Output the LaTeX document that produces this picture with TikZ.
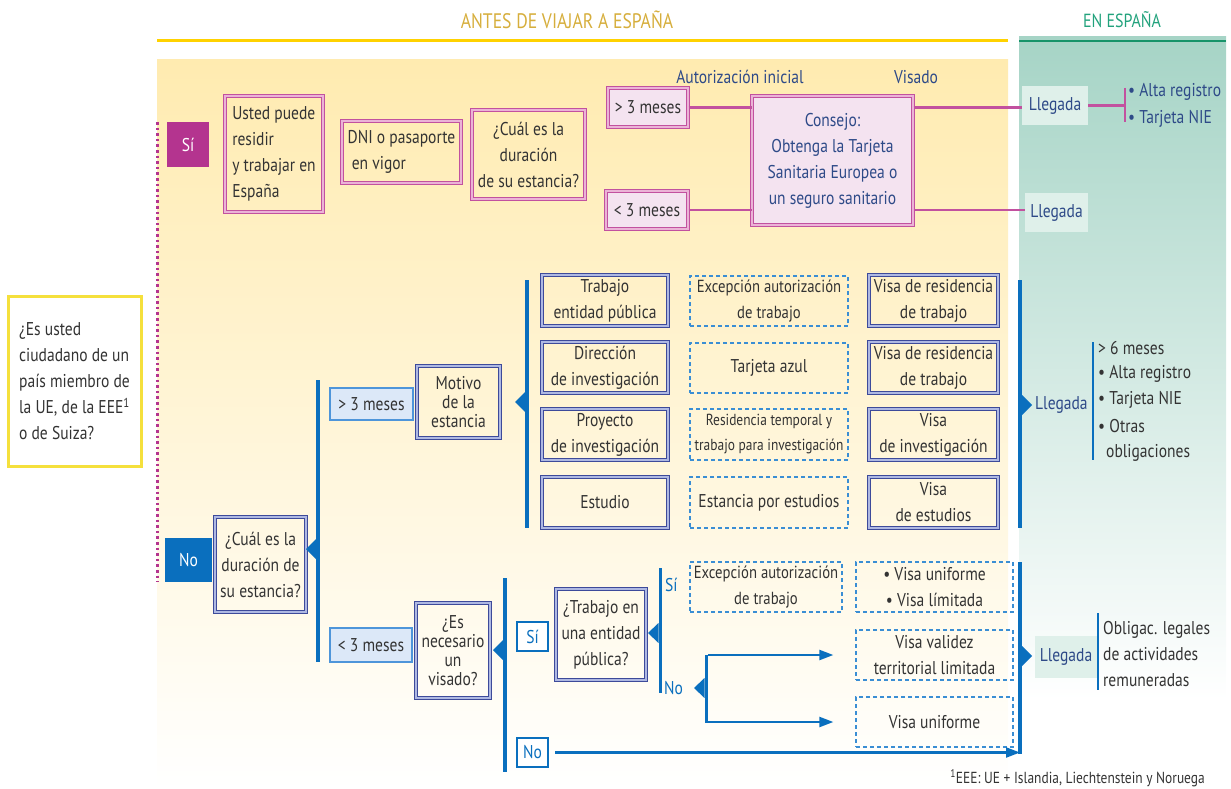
\documentclass[tikz,border=0pt]{standalone}
\usepackage{fontspec}
\setmainfont{PT Sans}[FakeStretch=0.84]
\usetikzlibrary{arrows.meta,calc,positioning}

\definecolor{yellowbg}{HTML}{FFEBB0}
\definecolor{tealbg}{HTML}{A6D4C6}
\definecolor{headgold}{HTML}{D6AE3C}
\definecolor{headline}{HTML}{FFD200}
\definecolor{headgreen}{HTML}{22A27C}
\definecolor{greenline}{HTML}{17946A}
\definecolor{magfill}{HTML}{B4348F}
\definecolor{magline}{HTML}{C2519F}
\definecolor{maginner}{HTML}{EBB3D6}
\definecolor{pinkfill}{HTML}{F4E3F0}
\definecolor{barblue}{HTML}{0A6FBE}
\definecolor{navy}{HTML}{3D4A9A}
\definecolor{navyinner}{HTML}{AEB8E2}
\definecolor{lightblue}{HTML}{DCE8F8}
\definecolor{skyline}{HTML}{4E95DA}
\definecolor{dashblue}{HTML}{3A8ED4}
\definecolor{txtgray}{HTML}{333333}
\definecolor{txtblue}{HTML}{2E4A88}
\definecolor{llegfill}{HTML}{DFF0EA}
\definecolor{qyellow}{HTML}{F5E03C}

\begin{document}
\begin{tikzpicture}
[
                  x =  1pt,
                  y = -1pt,
                 >= {Triangle[length=14pt,width=10pt]},
  every node/.style = { font=\fontsize{18.5}{26}\selectfont, text=txtgray, inner sep=0pt },
   yellowbox/.style = { draw=qyellow, line width=3pt, fill=white },
       sibox/.style = { fill=magfill, text=white },
       nobox/.style = { fill=barblue, text=white },
     pinkbox/.style = { draw=magline, double=maginner, line width=1pt, double distance=1.2pt },
  pinkfilled/.style = { pinkbox, fill=pinkfill },
     navybox/.style = { draw=navy, double=navyinner, line width=1pt, double distance=1.2pt },
   mesesbox/.style = { draw=skyline, line width=1.8pt, fill=lightblue },
     dashbox/.style = { draw=dashblue, line width=1.3pt, dash pattern=on 4pt off 3pt },
      answer/.style = { draw=barblue, line width=2.8pt, fill=white, text=barblue },
     llegada/.style = { fill=llegfill, text=txtblue },
        item/.style = { anchor=west },
         bar/.style = { draw=barblue, line width=4pt },
     thinbar/.style = { draw=barblue, line width=1.6pt },
     magconn/.style = { draw=magline, line width=2.2pt },
       arrow/.style = { draw=barblue, line width=2.2pt, -> }
]

    \useasboundingbox (0,0) rectangle (1231,789);

    \shade[top color=yellowbg, bottom color=white] (157,60) rectangle (1008,789);
    \shade[top color=tealbg, bottom color=white] (1019,37) rectangle (1226,700);

    \node (Antes)     at (567,20)  [text=headgold, font=\fontsize{21}{24}\selectfont] {ANTES DE VIAJAR A ESPAÑA};
    \node (EnEspana)  at (1122,20) [text=headgreen, font=\fontsize{19}{22}\selectfont] {EN ESPAÑA};
    \draw[headline, line width=3pt] (157,41) -- (1008,41);
    \draw[greenline, line width=2.5pt] (1019,41) -- (1226,41);

    \node (Ciudadano) at (74.5,381) [yellowbox, minimum width=133pt, minimum height=170pt, align=left]
        {¿Es usted\\ciudadano de un\\país miembro de\\la UE, de la EEE\textsuperscript{1}\\o de Suiza?};
    \draw[magfill, line width=3pt, dash pattern=on 2.6pt off 3pt] (157,122) -- (157,582);

    \node (Si)        at (188,144.5)   [sibox, minimum width=42pt, minimum height=45pt] {Sí};
    \node (No)        at (188.5,560)   [nobox, minimum width=47pt, minimum height=44pt] {No};

    \node (Residir)   at (274,154)     [pinkbox, minimum width=98pt, minimum height=116pt, align=left]
        {Usted puede\\residir\\y trabajar en\\España};
    \node (Dni)       at (401.5,152)   [pinkbox, minimum width=119pt, minimum height=62pt, align=left]
        {DNI o pasaporte\\\ en vigor};
    \node (DuraSi)    at (528.5,154.5) [pinkbox, minimum width=113pt, minimum height=89pt, align=center]
        {¿Cuál es la\\duración\\de su estancia?};

    \node (AutLabel)  at (740,77)  [text=txtblue] {Autorización inicial};
    \node (VisLabel)  at (916,77)  [text=txtblue] {Visado};

    \node (MasTres)   at (648,107.5)   [pinkfilled, minimum width=80pt, minimum height=39pt] {> 3 meses};
    \node (MenosTres) at (647,210)     [pinkfilled, minimum width=82pt, minimum height=38pt] {< 3 meses};
    \node (Consejo)   at (832.5,160.5) [pinkfilled, minimum width=161pt, minimum height=129pt, align=center, text=txtblue]
        {Consejo:\\Obtenga la Tarjeta\\Sanitaria Europea o\\un seguro sanitario};
    \node (LlegadaA)  at (1055,105.5)  [llegada, minimum width=66pt, minimum height=39pt] {Llegada};
    \node (LlegadaB)  at (1056.5,212.5)[llegada, minimum width=63pt, minimum height=39pt] {Llegada};

    \draw[magconn] (MasTres.east) -- (MasTres.east -| Consejo.west);
    \draw[magconn] (MasTres.east -| Consejo.east) -- (MasTres.east -| LlegadaA.west);
    \draw[magconn] (MenosTres.east) -- (MenosTres.east -| Consejo.west);
    \draw[magconn] (MenosTres.east -| Consejo.east) -- (MenosTres.east -| LlegadaB.west);
    \coordinate (BrkTop) at (1125,88);
    \coordinate (BrkBot) at (1125,122);
    \draw[magconn] (LlegadaA.east) -- (LlegadaA.east -| BrkTop);
    \draw[magconn] (BrkTop) -- (BrkBot);
    \node (AltaA)     at (1128,92)  [item, text=txtblue] {• Alta registro};
    \node (NieA)      at (1128,119) [item, text=txtblue] {• Tarjeta NIE};

    \node (DuraNo)    at (260.5,564.5) [navybox, minimum width=91pt, minimum height=95pt, align=center]
        {¿Cuál es la\\duración de\\su estancia?};
    \coordinate (BarATop) at (318,380);
    \coordinate (BarABot) at (318,662);
    \draw[bar] (BarATop) -- (BarABot);
    \fill[barblue] (316,539) -- (306,549) -- (316,559) -- cycle;

    \node (MasTresB)  at (371.5,404)   [mesesbox, minimum width=83pt, minimum height=32pt] {> 3 meses};
    \node (Motivo)    at (458.5,402)   [navybox, minimum width=83pt, minimum height=72pt, align=center,
                                        font=\fontsize{18.5}{19}\selectfont] {Motivo\\de la\\estancia};
    \coordinate (BarBTop) at (527,280);
    \coordinate (BarBBot) at (527,528);
    \draw[bar] (BarBTop) -- (BarBBot);
    \fill[barblue] (525,392) -- (515,402) -- (525,412) -- cycle;

    \node (Trabajo)   at (605,300.5) [navybox, minimum width=126pt, minimum height=51pt, align=center] {Trabajo\\entidad pública};
    \node (Direccion) at (605,367.5) [navybox, minimum width=126pt, minimum height=51pt, align=center] {Dirección\\de investigación};
    \node (Proyecto)  at (605,434.5) [navybox, minimum width=126pt, minimum height=51pt, align=center] {Proyecto\\de investigación};
    \node (Estudio)   at (605,502.5) [navybox, minimum width=126pt, minimum height=51pt] {Estudio};

    \node (Excepcion) at (769,301)   [dashbox, minimum width=158pt, minimum height=50pt, align=center,
                                      font=\fontsize{17.5}{26}\selectfont] {Excepción autorización\\de trabajo};
    \node (Azul)      at (769,368)   [dashbox, minimum width=158pt, minimum height=50pt] {Tarjeta azul};
    \node (Temporal)  at (769,434.5) [dashbox, minimum width=158pt, minimum height=51pt, align=center,
                                      font=\fontsize{16}{25}\selectfont] {Residencia temporal y\\trabajo para investigación};
    \node (Estancia)  at (769,502.5) [dashbox, minimum width=158pt, minimum height=51pt] {Estancia por estudios};

    \node (VisaTrabA) at (933.5,300.5) [navybox, minimum width=129pt, minimum height=51pt, align=center] {Visa de residencia\\de trabajo};
    \node (VisaTrabB) at (933.5,367.5) [navybox, minimum width=129pt, minimum height=51pt, align=center] {Visa de residencia\\de trabajo};
    \node (VisaInv)   at (933.5,434.5) [navybox, minimum width=129pt, minimum height=51pt, align=center] {Visa\\de investigación};
    \node (VisaEst)   at (933.5,502.5) [navybox, minimum width=129pt, minimum height=51pt, align=center] {Visa\\de estudios};

    \coordinate (BarCTop) at (1020,280);
    \coordinate (BarCBot) at (1020,528);
    \draw[bar] (BarCTop) -- (BarCBot);
    \fill[barblue] (1022,395) -- (1032,405) -- (1022,415) -- cycle;
    \node (LlegadaC)  at (1035,405) [item, text=txtblue] {Llegada};
    \coordinate (BrkCTop) at (1093,342);
    \coordinate (BrkCBot) at (1093,460);
    \draw[thinbar] (BrkCTop) -- (BrkCBot);
    \node (SeisMeses) at (1098,348) [item] {> 6 meses};
    \node (AltaC)     at (1098,374) [item] {• Alta registro};
    \node (NieC)      at (1098,400) [item] {• Tarjeta NIE};
    \node (OtrasC)    at (1098,426) [item] {• Otras};
    \node (OblC)      at (1106,453) [item] {obligaciones};

    \node (MenosTresB) at (371,645)   [mesesbox, minimum width=82pt, minimum height=34pt] {< 3 meses};
    \node (Necesario)  at (453,650.5) [navybox, minimum width=74pt, minimum height=95pt, align=center,
                                       font=\fontsize{18.5}{19}\selectfont] {¿Es\\necesario\\un\\visado?};
    \coordinate (BarDTop) at (505,578);
    \coordinate (BarDBot) at (505,772);
    \draw[bar] (BarDTop) -- (BarDBot);
    \fill[barblue] (503,640) -- (493,650) -- (503,660) -- cycle;

    \node (SiB)       at (532.5,636.5) [answer, minimum width=31pt, minimum height=29pt] {Sí};
    \node (NoB)       at (532.5,752.5) [answer, minimum width=31pt, minimum height=29pt] {No};
    \node (Publica)   at (601,634.5)   [navybox, minimum width=90pt, minimum height=91pt, align=center] {¿Trabajo en\\una entidad\\pública?};

    \coordinate (BarETop) at (660,568);
    \coordinate (BarEBot) at (660,693);
    \draw[bar, line width=3pt] (BarETop) -- (BarEBot);
    \fill[barblue] (658.5,623) -- (648,633) -- (658.5,643) -- cycle;
    \node (SiC)       at (665,585) [item, text=barblue] {Sí};
    \node (NoC)       at (664,688) [item, text=barblue] {No};

    \node (ExcepB)    at (766,587)   [dashbox, minimum width=152pt, minimum height=50pt, align=center,
                                      font=\fontsize{17.5}{26}\selectfont] {Excepción autorización\\de trabajo};
    \node (VisaUL)    at (934.5,587) [dashbox, minimum width=157pt, minimum height=50pt, align=center] {• Visa uniforme\\• Visa límitada};
    \node (VisaVal)   at (934.5,655) [dashbox, minimum width=157pt, minimum height=50pt, align=center] {Visa validez\\territorial limitada};
    \node (VisaUni)   at (934.5,722) [dashbox, minimum width=157pt, minimum height=50pt] {Visa uniforme};

    \coordinate (BarFTop) at (706,655);
    \coordinate (BarFBot) at (706,723);
    \draw[bar, line width=3pt] (BarFTop) -- (BarFBot);
    \fill[barblue] (704.5,678) -- (694,688) -- (704.5,698) -- cycle;
    \draw[arrow] (BarFTop |- VisaVal.west) ++(2,0) -- ([xshift=-22pt]VisaVal.west);
    \draw[arrow] (BarFTop |- VisaUni.west) ++(2,0) -- ([xshift=-22pt]VisaUni.west);

    \coordinate (BarGTop) at (1020,562);
    \coordinate (BarGBot) at (1020,754);
    \draw[bar] (BarGTop) -- (BarGBot);
    \fill[barblue] (1022,646) -- (1032,656) -- (1022,666) -- cycle;
    \draw[arrow] ([xshift=6pt]NoB.east) -- (NoB.east -| BarGBot);

    \node (LlegadaD)  at (1066,657) [llegada, minimum width=62pt, minimum height=42pt] {Llegada};
    \coordinate (BrkDTop) at (1098,613);
    \coordinate (BrkDBot) at (1098,690);
    \draw[thinbar] (BrkDTop) -- (BrkDBot);
    \node (Obligac)   at (1103,654) [item, align=left] {Obligac. legales\\de actividades\\remuneradas};

    \node (Nota)      at (1205,778) [anchor=east, font=\fontsize{16}{18}\selectfont]
        {\textsuperscript{1}EEE: UE + Islandia, Liechtenstein y Noruega};

\end{tikzpicture}
\end{document}
